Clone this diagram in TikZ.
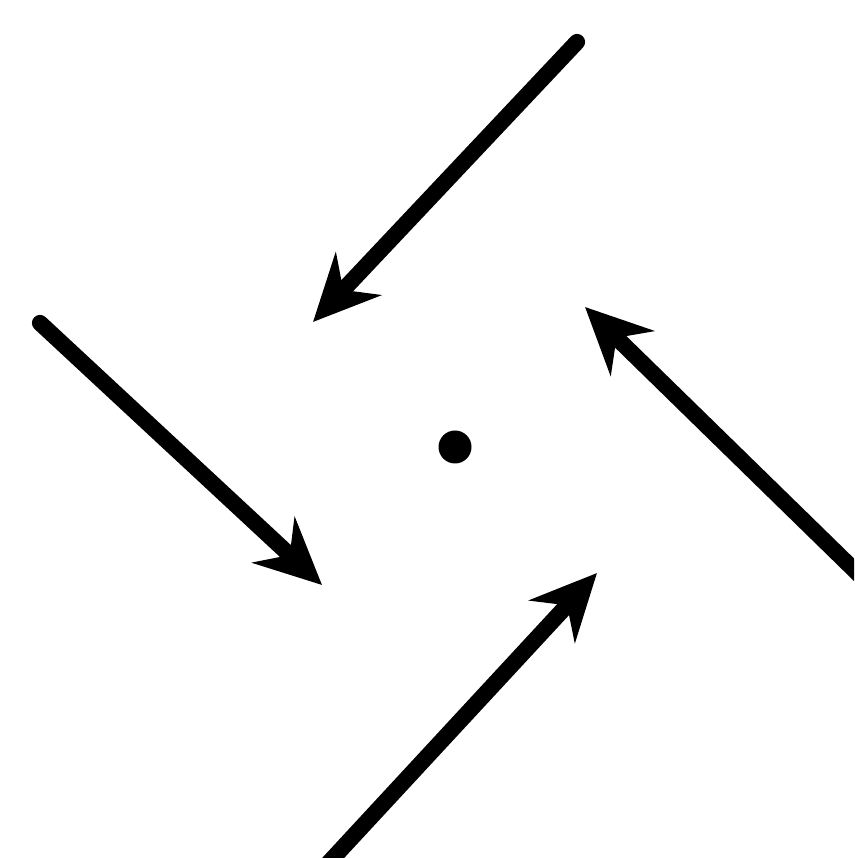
\documentclass[tikz,border=0pt]{standalone}
\usepackage{tikz}
\usetikzlibrary{arrows.meta}

\begin{document}
\begin{tikzpicture}[
  >={Stealth[length=6.6mm, width=6.2mm, inset=2.2mm]},
  flow/.style={->, line width=4.6pt, line cap=round},
  pt/.style={circle, fill, inner sep=0pt, minimum size=3.3mm},
]
\useasboundingbox (0,0) rectangle (8.54,8.58);
\clip (0,0) rectangle (8.54,8.58);

% --- the fixed point ---
\node[pt] (centre) at (4.55, 4.11) {};

% --- ends of the four arrows ---
\coordinate (nStart) at (5.77, 8.16);
\coordinate (nTip)   at (3.13, 5.36);
\coordinate (wStart) at (0.40, 5.35);
\coordinate (wTip)   at (3.22, 2.73);
\coordinate (eStart) at (8.85, 2.58);
\coordinate (eTip)   at (5.85, 5.51);
\coordinate (sStart) at (3.22, -0.12);
\coordinate (sTip)   at (5.97, 2.85);

% --- arrows ---
\draw[flow] (nStart) -- (nTip);
\draw[flow] (wStart) -- (wTip);
\draw[flow] (eStart) -- (eTip);
\draw[flow] (sStart) -- (sTip);

\end{tikzpicture}
\end{document}
